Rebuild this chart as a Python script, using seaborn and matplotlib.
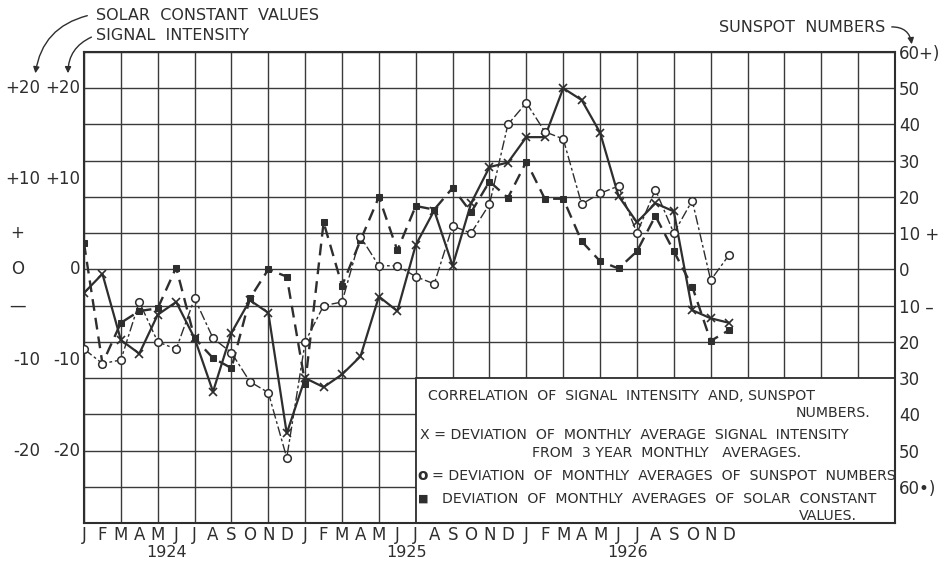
import matplotlib
matplotlib.use("Agg")
import matplotlib.pyplot as plt
from matplotlib.patches import Rectangle
import numpy as np
import pandas as pd
import seaborn as sns

# Monthly values, January 1924 through December 1926
month_letters = ["J", "F", "M", "A", "M", "J", "J", "A", "S", "O", "N", "D"] * 3
years = ["1924", "1925", "1926"]

# deviation of monthly average signal intensity from 3-year monthly averages
signal_intensity = [-2.6, -0.5, -7.8, -9.3, -5.0, -3.6, -7.6, -13.5, -7.0, -3.4, -4.8, -18.1,
                    -12.0, -13.0, -11.6, -9.6, -3.0, -4.6, 2.7, 6.5, 0.4, 7.3, 11.3, 11.8,
                    14.6, 14.6, 20.0, 18.7, 15.1, 8.1, 5.2, 7.3, 6.4, -4.5, -5.4, -5.9]

# deviation of monthly averages of sunspot numbers
sunspot_numbers = [-22, -26, -25, -9, -20, -22, -8, -19, -23, -31, -34, -52,
                   -20, -10, -9, 9, 1, 1, -2, -4, 12, 10, 18, 40,
                   46, 38, 36, 18, 21, 23, 10, 22, 10, 19, -3, 4]

# deviation of monthly averages of solar constant values
solar_constant = [2.9, -10.4, -5.9, -4.6, -4.3, 0.2, -7.6, -9.8, -10.9, -3.2, 0.0, -0.8,
                  -12.6, 5.2, -1.8, 3.2, 8.0, 2.1, 7.0, 6.6, 9.0, 6.3, 9.7, 7.9,
                  11.9, 7.8, 7.8, 3.1, 0.9, 0.1, 2.0, 5.9, 2.0, -1.9, -7.9, -6.7]

left_outer_labels = ["+20", "+10", "+", "O", "\u2014", "-10", "-20"]
left_inner_labels = ["+20", "+10", "", "0", "", "-10", "-20"]
left_label_levels = [20, 10, 4, 0, -4, -10, -20]

sunspot_ticks = list(range(-60, 70, 10))
sunspot_tick_labels = ["60\u2022)", "50", "40", "30", "20", "10 \u2013", "0",
                       "10 +", "20", "30", "40", "50", "60+)"]

legend_lines = [
    ("CORRELATION  OF  SIGNAL  INTENSITY  AND, SUNSPOT", 428, 396, "left"),
    ("NUMBERS.", 870, 413, "right"),
    ("X = DEVIATION  OF  MONTHLY  AVERAGE  SIGNAL  INTENSITY", 420, 435, "left"),
    ("FROM  3 YEAR  MONTHLY   AVERAGES.", 532, 453, "left"),
    ("= DEVIATION  OF  MONTHLY  AVERAGES  OF  SUNSPOT  NUMBERS", 432, 476, "left"),
    ("DEVIATION  OF  MONTHLY  AVERAGES  OF  SOLAR  CONSTANT", 442, 499, "left"),
    ("VALUES.", 857, 516, "right"),
]

INK = "#2e2e2e"
sns.set_theme(style="white")
plt.rcParams["font.family"] = ["DejaVu Sans"]
plt.rcParams["text.color"] = INK

W, H = 945, 565
fig = plt.figure(figsize=(W / 100, H / 100), dpi=100)
L, R, T, B = 84, 895, 52, 523
ax = fig.add_axes([L / W, 1 - B / H, (R - L) / W, (B - T) / H])


def px(x, y):
    return x / W, 1 - y / H


df = pd.DataFrame({
    "month": np.arange(len(signal_intensity)),
    "signal": signal_intensity,
    "sunspot": sunspot_numbers,
    "solar": solar_constant,
})

ax.set_xlim(0, 44)
ax.set_ylim(-28, 24)
ax.set_xticks(np.arange(0, 45, 2))
ax.set_yticks(np.arange(-28, 25, 4))
ax.grid(True, color="#3a3a3a", lw=1.0)
ax.set_axisbelow(True)
ax.tick_params(length=0, labelbottom=False, labelleft=False)
for s in ax.spines.values():
    s.set_color(INK)
    s.set_linewidth(1.5)

# solar constant: dashed with filled squares
sns.lineplot(data=df, x="month", y="solar", ax=ax, color=INK, lw=1.7,
             linestyle=(0, (5, 3)), marker="s", markersize=4.5,
             markerfacecolor=INK, markeredgecolor=INK, zorder=3)
# signal intensity: solid with crosses
sns.lineplot(data=df, x="month", y="signal", ax=ax, color=INK, lw=1.6,
             marker="x", markersize=5.5, markeredgewidth=1.2,
             markeredgecolor=INK, zorder=4)

# legend panel in the lower right of the grid
ax.add_patch(Rectangle((18, -28), 26, 16, facecolor="white", edgecolor=INK,
                       lw=1.3, zorder=2.5))

# sunspot numbers on their own scale
ax2 = ax.twinx()
sns.lineplot(data=df, x="month", y="sunspot", ax=ax2, color=INK, lw=1.0,
             linestyle=(0, (7, 2, 2, 2)), marker="o", markersize=5.5,
             markerfacecolor="white", markeredgecolor=INK, markeredgewidth=1.1)
ax2.set_xlim(0, 44)
ax2.set_ylim(-70, 60)
ax2.set_yticks(sunspot_ticks)
ax2.set_yticklabels(sunspot_tick_labels)
ax2.tick_params(length=0, pad=3, labelsize=12, labelcolor=INK)
ax2.grid(False)
for s in ax2.spines.values():
    s.set_visible(False)
for a in (ax, ax2):
    a.set_xlabel("")
    a.set_ylabel("")

# left-hand scales: solar constant (outer) and signal intensity (inner)
ytr = ax.get_yaxis_transform()
for lvl, outer, inner in zip(left_label_levels, left_outer_labels, left_inner_labels):
    if outer in ("+", "O", "\u2014"):
        ax.text(-0.082, lvl, outer, transform=ytr, ha="center", va="center",
                fontsize=12, color=INK)
    else:
        ax.text(-0.054, lvl, outer, transform=ytr, ha="right", va="center",
                fontsize=12, color=INK)
    if inner:
        ax.text(-0.005, lvl, inner, transform=ytr, ha="right", va="center",
                fontsize=12, color=INK)

# month letters and years under the grid
xtr = ax.get_xaxis_transform()
for i, m in enumerate(month_letters):
    ax.text(i, -0.026, m, transform=xtr, ha="center", va="center",
            fontsize=12, color=INK)
for y, pos in zip(years, (4.5, 17.5, 29.5)):
    ax.text(pos, -0.062, y, transform=xtr, ha="center", va="center",
            fontsize=11.5, color=INK)

# legend wording
for text, x, y, ha in legend_lines:
    fig.text(*px(x, y), text, ha=ha, va="center", fontsize=10.2, color=INK)
fig.text(*px(423, 476), "o", ha="center", va="center", fontsize=11,
         fontweight="bold", color=INK)
fig.text(*px(423, 499), "\u25a0", ha="center", va="center", fontsize=8, color=INK)

# scale captions with curved pointers
fig.text(*px(96, 15), "SOLAR  CONSTANT  VALUES", ha="left", va="center",
         fontsize=11.5, color=INK)
fig.text(*px(96, 36), "SIGNAL  INTENSITY", ha="left", va="center",
         fontsize=11.5, color=INK)
fig.text(*px(885, 28), "SUNSPOT  NUMBERS", ha="right", va="center",
         fontsize=11.5, color=INK)

arrow = dict(arrowstyle="-|>", color=INK, lw=1.0, mutation_scale=9)
ax.annotate("", xy=(35, H - 76), xytext=(90, H - 15), xycoords="figure pixels",
            textcoords="figure pixels", annotation_clip=False,
            arrowprops=dict(arrow, connectionstyle="arc3,rad=0.35"))
ax.annotate("", xy=(68, H - 76), xytext=(94, H - 36), xycoords="figure pixels",
            textcoords="figure pixels", annotation_clip=False,
            arrowprops=dict(arrow, connectionstyle="arc3,rad=0.35"))
ax.annotate("", xy=(912, H - 47), xytext=(889, H - 27), xycoords="figure pixels",
            textcoords="figure pixels", annotation_clip=False,
            arrowprops=dict(arrow, connectionstyle="arc3,rad=-0.5"))

fig.savefig("out.png", dpi=100, facecolor="white")
